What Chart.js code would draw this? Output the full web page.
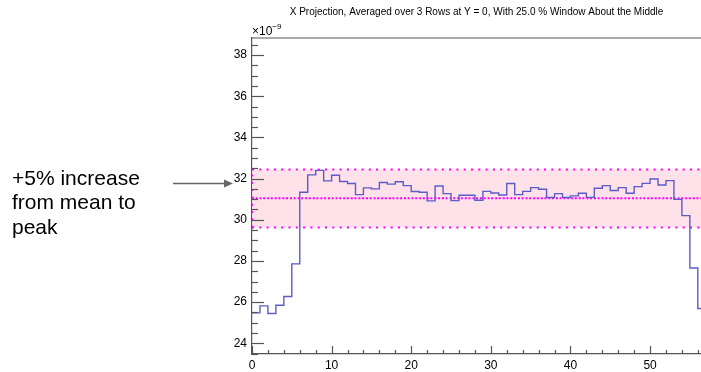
<!DOCTYPE html>
<html>
<head>
<meta charset="utf-8">
<script src="https://cdn.jsdelivr.net/npm/chart.js@4.4.1/dist/chart.umd.min.js"></script>
<style>
  html, body { margin: 0; padding: 0; background: #fff; }
  #wrap { position: relative; width: 701px; height: 372px; }
</style>
</head>
<body>
<div id="wrap"><canvas id="projChart" width="701" height="372"></canvas></div>
<script>
// one value per unit-wide bin, starting at x = 0 (units of 1e-9)
const binValues = [
  25.48, 25.82, 25.45, 25.85, 26.27, 27.86, 31.34, 32.18, 32.40, 31.89,
  32.16, 31.86, 31.76, 31.22, 31.55, 31.50, 31.81, 31.73, 31.85, 31.66,
  31.37, 31.34, 30.92, 31.64, 31.27, 30.93, 31.19, 31.19, 30.95, 31.38,
  31.30, 31.20, 31.76, 31.22, 31.38, 31.56, 31.48, 31.08, 31.27, 31.08,
  31.16, 31.29, 31.09, 31.53, 31.66, 31.42, 31.56, 31.29, 31.61, 31.77,
  31.98, 31.69, 31.90, 30.99, 30.20, 27.66, 25.69
];
const xTickValues = [0, 10, 20, 30, 40, 50];
const yTickValues = [24, 26, 28, 30, 32, 34, 36, 38];
const bandMean = 31.04;
const bandUpper = 32.44;
const bandLower = 29.62;
const titleText = "X Projection, Averaged over 3 Rows at Y = 0, With 25.0 % Window About the Middle";
const noteLines = ["+5% increase", "from mean to", "peak"];

const FONT = "'Liberation Sans', Arial, Helvetica, sans-serif";
const AXIS_COLOR = "#555";

// histogram as step line: point i at the left edge of bin i, plus closing edge
const histPoints = binValues.map((v, i) => ({ x: i, y: v }));
histPoints.push({ x: binValues.length, y: binValues[binValues.length - 1] });

const hLine = (y) => [{ x: 0, y: y }, { x: 70, y: y }];

// ROOT-style tick marks, title exponent, side note and arrow
const decorations = {
  id: "decorations",
  afterDraw(chart) {
    const ctx = chart.ctx;
    const xs = chart.scales.x, ys = chart.scales.y;
    const a = chart.chartArea;
    ctx.save();
    ctx.strokeStyle = AXIS_COLOR;
    ctx.lineWidth = 1.2;

    // top frame
    ctx.beginPath();
    ctx.moveTo(a.left, a.top);
    ctx.lineTo(a.right, a.top);
    ctx.stroke();

    // y ticks (inside, pointing right)
    for (let v = 23.5; v <= ys.max; v += 0.5) {
      const py = Math.round(ys.getPixelForValue(v)) + 0.5;
      const len = Math.abs(v % 2) < 1e-6 ? 12 : 6;
      ctx.beginPath();
      ctx.moveTo(a.left, py);
      ctx.lineTo(a.left + len, py);
      ctx.stroke();
    }
    // x ticks (inside, pointing up)
    for (let v = 0; v <= xs.max; v += 2) {
      const px = Math.round(xs.getPixelForValue(v)) + 0.5;
      const len = v % 10 === 0 ? 8 : 4;
      ctx.beginPath();
      ctx.moveTo(px, a.bottom);
      ctx.lineTo(px, a.bottom - len);
      ctx.stroke();
    }

    // exponent label
    ctx.fillStyle = "#000";
    ctx.textBaseline = "alphabetic";
    ctx.textAlign = "left";
    ctx.font = "12px " + FONT;
    ctx.fillText("\u00d710", a.left, 35);
    const w = ctx.measureText("\u00d710").width;
    ctx.font = "8px " + FONT;
    ctx.fillText("\u22129", a.left + w, 29);

    // side note
    ctx.font = "21px " + FONT;
    noteLines.forEach((t, i) => ctx.fillText(t, 12, 185 + i * 24.3));

    // arrow
    ctx.strokeStyle = "#666";
    ctx.fillStyle = "#666";
    ctx.lineWidth = 1.5;
    ctx.beginPath();
    ctx.moveTo(173, 183.5);
    ctx.lineTo(226, 183.5);
    ctx.stroke();
    ctx.beginPath();
    ctx.moveTo(233, 183.5);
    ctx.lineTo(224, 179.5);
    ctx.lineTo(224, 187.5);
    ctx.closePath();
    ctx.fill();
    ctx.restore();
  }
};

const ctx = document.getElementById("projChart").getContext("2d");
new Chart(ctx, {
  type: "line",
  data: {
    datasets: [
      {
        label: "projection",
        data: histPoints,
        stepped: "before",
        borderColor: "#5c5cc9",
        borderWidth: 1.4,
        pointRadius: 0,
        fill: false,
        order: 0
      },
      {
        label: "upper",
        data: hLine(bandUpper),
        borderColor: "#ff00ff",
        borderWidth: 2,
        borderDash: [2, 5.3],
        pointRadius: 0,
        fill: { target: { value: bandLower } },
        backgroundColor: "rgba(253, 215, 226, 0.75)",
        order: 2
      },
      {
        label: "lower",
        data: hLine(bandLower),
        borderColor: "#ff00ff",
        borderWidth: 2,
        borderDash: [2, 5.3],
        pointRadius: 0,
        fill: false,
        order: 1
      },
      {
        label: "mean",
        data: hLine(bandMean),
        borderColor: "#ff00ff",
        borderWidth: 2,
        borderDash: [2, 1.6, 2, 2],
        pointRadius: 0,
        fill: false,
        order: 1
      },
      {
        label: "edge",
        data: [{ x: 0, y: bandLower }, { x: 0, y: bandUpper }],
        borderColor: "#ff00ff",
        borderWidth: 2,
        borderDash: [2, 5.3],
        pointRadius: 0,
        fill: false,
        order: 1
      }
    ]
  },
  options: {
    responsive: false,
    animation: false,
    devicePixelRatio: 1,
    layout: { padding: 0 },
    plugins: {
      legend: { display: false },
      tooltip: { enabled: false },
      title: {
        display: true,
        text: titleText,
        fullSize: false,
        color: "#000",
        font: { family: FONT, size: 10, weight: "normal" },
        padding: { top: 6, bottom: 20 }
      }
    },
    scales: {
      x: {
        type: "linear",
        min: 0,
        max: 56.4,
        grid: { display: false, drawTicks: false },
        border: { display: true, color: AXIS_COLOR, width: 1.2 },
        afterBuildTicks: (scale) => {
          scale.ticks = xTickValues.map((v) => ({ value: v }));
        },
        afterFit: (scale) => { scale.height = 18; },
        ticks: {
          autoSkip: false,
          maxRotation: 0,
          padding: 4,
          color: "#000",
          font: { family: FONT, size: 12 },
          callback: (v) => String(v)
        }
      },
      y: {
        type: "linear",
        min: 23.48,
        max: 38.83,
        grid: { display: false, drawTicks: false },
        border: { display: true, color: AXIS_COLOR, width: 1.2 },
        afterBuildTicks: (scale) => {
          scale.ticks = yTickValues.map((v) => ({ value: v }));
        },
        afterFit: (scale) => { scale.width = 252; },
        ticks: {
          padding: 5,
          color: "#000",
          font: { family: FONT, size: 12 },
          callback: (v) => String(v)
        }
      }
    }
  },
  plugins: [decorations]
});
</script>
</body>
</html>
